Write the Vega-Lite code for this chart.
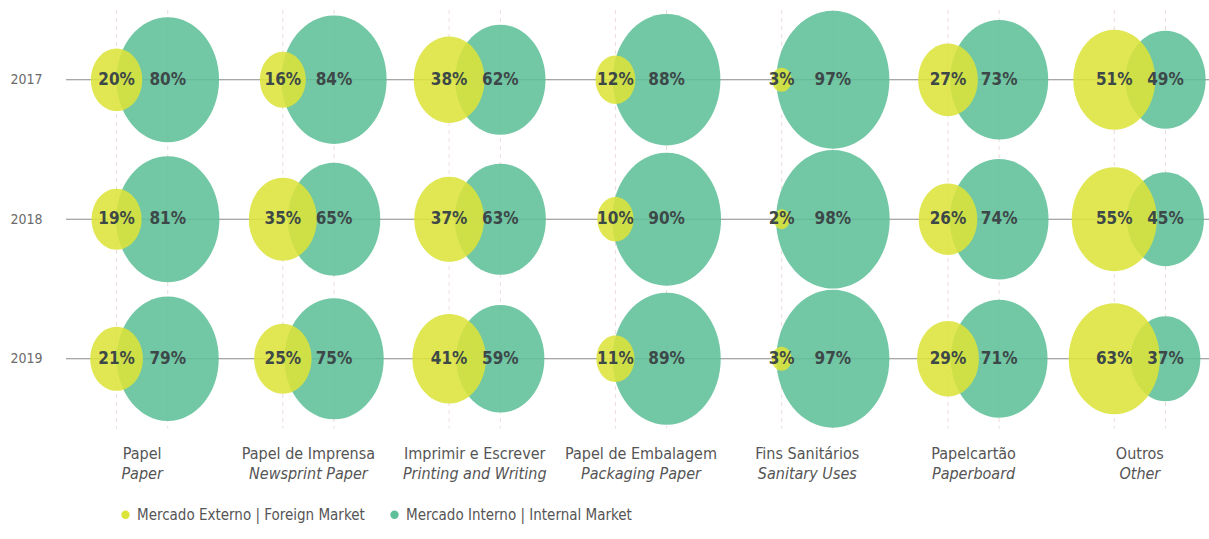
{
  "$schema": "https://vega.github.io/schema/vega-lite/v6.json",
  "autosize": "none",
  "width": 1143,
  "height": 418.5,
  "padding": {"left": 66, "top": 10, "right": 0, "bottom": 110},
  "background": "white",
  "config": {"view": {"stroke": null}, "font": "DejaVu Sans Condensed"},
  "datasets": {
    "shares": [
      {"cat": "Papel|Paper", "year": "2017", "market": "Mercado Externo | Foreign Market", "value": 0.20},
      {"cat": "Papel|Paper", "year": "2017", "market": "Mercado Interno | Internal Market", "value": 0.80},
      {"cat": "Papel|Paper", "year": "2018", "market": "Mercado Externo | Foreign Market", "value": 0.19},
      {"cat": "Papel|Paper", "year": "2018", "market": "Mercado Interno | Internal Market", "value": 0.81},
      {"cat": "Papel|Paper", "year": "2019", "market": "Mercado Externo | Foreign Market", "value": 0.21},
      {"cat": "Papel|Paper", "year": "2019", "market": "Mercado Interno | Internal Market", "value": 0.79},
      {"cat": "Papel de Imprensa|Newsprint Paper", "year": "2017", "market": "Mercado Externo | Foreign Market", "value": 0.16},
      {"cat": "Papel de Imprensa|Newsprint Paper", "year": "2017", "market": "Mercado Interno | Internal Market", "value": 0.84},
      {"cat": "Papel de Imprensa|Newsprint Paper", "year": "2018", "market": "Mercado Externo | Foreign Market", "value": 0.35},
      {"cat": "Papel de Imprensa|Newsprint Paper", "year": "2018", "market": "Mercado Interno | Internal Market", "value": 0.65},
      {"cat": "Papel de Imprensa|Newsprint Paper", "year": "2019", "market": "Mercado Externo | Foreign Market", "value": 0.25},
      {"cat": "Papel de Imprensa|Newsprint Paper", "year": "2019", "market": "Mercado Interno | Internal Market", "value": 0.75},
      {"cat": "Imprimir e Escrever|Printing and Writing", "year": "2017", "market": "Mercado Externo | Foreign Market", "value": 0.38},
      {"cat": "Imprimir e Escrever|Printing and Writing", "year": "2017", "market": "Mercado Interno | Internal Market", "value": 0.62},
      {"cat": "Imprimir e Escrever|Printing and Writing", "year": "2018", "market": "Mercado Externo | Foreign Market", "value": 0.37},
      {"cat": "Imprimir e Escrever|Printing and Writing", "year": "2018", "market": "Mercado Interno | Internal Market", "value": 0.63},
      {"cat": "Imprimir e Escrever|Printing and Writing", "year": "2019", "market": "Mercado Externo | Foreign Market", "value": 0.41},
      {"cat": "Imprimir e Escrever|Printing and Writing", "year": "2019", "market": "Mercado Interno | Internal Market", "value": 0.59},
      {"cat": "Papel de Embalagem|Packaging Paper", "year": "2017", "market": "Mercado Externo | Foreign Market", "value": 0.12},
      {"cat": "Papel de Embalagem|Packaging Paper", "year": "2017", "market": "Mercado Interno | Internal Market", "value": 0.88},
      {"cat": "Papel de Embalagem|Packaging Paper", "year": "2018", "market": "Mercado Externo | Foreign Market", "value": 0.10},
      {"cat": "Papel de Embalagem|Packaging Paper", "year": "2018", "market": "Mercado Interno | Internal Market", "value": 0.90},
      {"cat": "Papel de Embalagem|Packaging Paper", "year": "2019", "market": "Mercado Externo | Foreign Market", "value": 0.11},
      {"cat": "Papel de Embalagem|Packaging Paper", "year": "2019", "market": "Mercado Interno | Internal Market", "value": 0.89},
      {"cat": "Fins Sanitários|Sanitary Uses", "year": "2017", "market": "Mercado Externo | Foreign Market", "value": 0.03},
      {"cat": "Fins Sanitários|Sanitary Uses", "year": "2017", "market": "Mercado Interno | Internal Market", "value": 0.97},
      {"cat": "Fins Sanitários|Sanitary Uses", "year": "2018", "market": "Mercado Externo | Foreign Market", "value": 0.02},
      {"cat": "Fins Sanitários|Sanitary Uses", "year": "2018", "market": "Mercado Interno | Internal Market", "value": 0.98},
      {"cat": "Fins Sanitários|Sanitary Uses", "year": "2019", "market": "Mercado Externo | Foreign Market", "value": 0.03},
      {"cat": "Fins Sanitários|Sanitary Uses", "year": "2019", "market": "Mercado Interno | Internal Market", "value": 0.97},
      {"cat": "Papelcartão|Paperboard", "year": "2017", "market": "Mercado Externo | Foreign Market", "value": 0.27},
      {"cat": "Papelcartão|Paperboard", "year": "2017", "market": "Mercado Interno | Internal Market", "value": 0.73},
      {"cat": "Papelcartão|Paperboard", "year": "2018", "market": "Mercado Externo | Foreign Market", "value": 0.26},
      {"cat": "Papelcartão|Paperboard", "year": "2018", "market": "Mercado Interno | Internal Market", "value": 0.74},
      {"cat": "Papelcartão|Paperboard", "year": "2019", "market": "Mercado Externo | Foreign Market", "value": 0.29},
      {"cat": "Papelcartão|Paperboard", "year": "2019", "market": "Mercado Interno | Internal Market", "value": 0.71},
      {"cat": "Outros|Other", "year": "2017", "market": "Mercado Externo | Foreign Market", "value": 0.51},
      {"cat": "Outros|Other", "year": "2017", "market": "Mercado Interno | Internal Market", "value": 0.49},
      {"cat": "Outros|Other", "year": "2018", "market": "Mercado Externo | Foreign Market", "value": 0.55},
      {"cat": "Outros|Other", "year": "2018", "market": "Mercado Interno | Internal Market", "value": 0.45},
      {"cat": "Outros|Other", "year": "2019", "market": "Mercado Externo | Foreign Market", "value": 0.63},
      {"cat": "Outros|Other", "year": "2019", "market": "Mercado Interno | Internal Market", "value": 0.37}
    ]
  },
  "data": {"name": "shares"},
  "resolve": {"axis": {"x": "independent"}},
  "layer": [
    {
      "transform": [{"filter": "datum.year == '2017'"}],
      "mark": {"type": "rule", "stroke": "#ecdcdc", "strokeWidth": 1, "strokeDash": [4, 4]},
      "encoding": {
        "x": {
          "field": "cat", "type": "nominal",
          "scale": {"domain": ["Papel|Paper", "Papel de Imprensa|Newsprint Paper", "Imprimir e Escrever|Printing and Writing", "Papel de Embalagem|Packaging Paper", "Fins Sanitários|Sanitary Uses", "Papelcartão|Paperboard", "Outros|Other"], "range": [-7, 1157], "paddingInner": 0, "paddingOuter": 0},
          "axis": {"orient": "bottom", "title": null, "domain": false, "ticks": false, "tickSize": 0, "labelAngle": 0, "labelPadding": 17, "labelFontSize": 16, "labelColor": "#555555", "labelFont": "DejaVu Sans Condensed", "labelExpr": "split(datum.label, '|')[0]", "labelLimit": 300}
        },
        "xOffset": {"field": "market", "type": "nominal", "scale": {"paddingInner": 0, "paddingOuter": 0.625}}
      }
    },
    {
      "transform": [{"filter": "datum.cat == 'Papel|Paper' && datum.market == 'Mercado Externo | Foreign Market'"}],
      "mark": {"type": "rule", "stroke": "#8a8a8a", "strokeWidth": 1},
      "encoding": {
        "y": {
          "field": "year", "type": "ordinal",
          "scale": {"type": "point", "padding": 0.5},
          "axis": {"title": null, "domain": false, "ticks": false, "grid": false, "labelPadding": 24, "labelFontSize": 14, "labelColor": "#6a6a6a", "labelFont": "DejaVu Sans Condensed"}
        }
      }
    },
    {
      "mark": {"type": "point", "filled": true, "shape": "M-0.82,0A0.82,1,0,1,1,0.82,0A0.82,1,0,1,1,-0.82,0Z", "opacity": 0.88, "strokeWidth": 0},
      "encoding": {
        "x": {"field": "cat", "type": "nominal", "axis": null},
        "xOffset": {"field": "market", "type": "nominal"},
        "y": {"field": "year", "type": "ordinal"},
        "size": {"field": "value", "type": "quantitative", "scale": {"domain": [0, 1], "range": [0, 19600], "zero": true}, "legend": null},
        "color": {
          "field": "market", "type": "nominal",
          "scale": {"domain": ["Mercado Externo | Foreign Market", "Mercado Interno | Internal Market"], "range": ["#dce43a", "#5fbf99"]},
          "legend": {"title": null, "orient": "none", "legendX": 52, "legendY": 497, "direction": "horizontal", "columns": 2, "columnPadding": 22, "symbolType": "circle", "symbolSize": 70, "symbolOpacity": 1, "labelFontSize": 15, "labelColor": "#555555", "labelFont": "DejaVu Sans Condensed", "labelLimit": 400, "symbolStrokeWidth": 0}
        },
        "order": {"field": "market", "sort": "descending"}
      }
    },
    {
      "mark": {"type": "text", "font": "DejaVu Sans Condensed", "fontWeight": "bold", "fontSize": 17, "color": "#3d4848", "align": "center", "baseline": "middle"},
      "encoding": {
        "x": {"field": "cat", "type": "nominal",
          "axis": {"orient": "bottom", "title": null, "domain": false, "ticks": false, "tickSize": 0, "labelAngle": 0, "labelPadding": 37, "labelFontSize": 16, "labelFontStyle": "italic", "labelColor": "#555555", "labelFont": "DejaVu Sans Condensed", "labelExpr": "split(datum.label, '|')[1]", "labelLimit": 300}
        },
        "xOffset": {"field": "market", "type": "nominal"},
        "y": {"field": "year", "type": "ordinal"},
        "text": {"field": "value", "type": "quantitative", "format": ".0%"}
      }
    }
  ]
}
